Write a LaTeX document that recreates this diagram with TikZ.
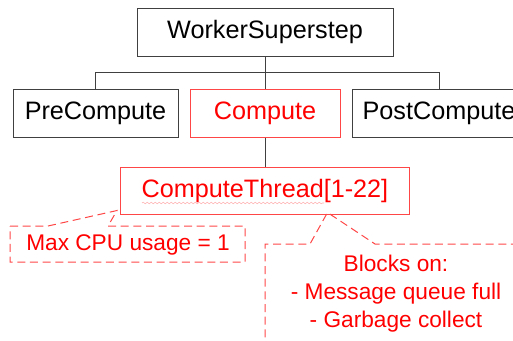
\documentclass[tikz,border=0pt]{standalone}
\usepackage{fontspec}
\setmainfont{Liberation Sans}
\usetikzlibrary{positioning, decorations.pathmorphing}
\definecolor{linegray}{RGB}{64,64,64}
\definecolor{hotred}{RGB}{255,0,0}
\definecolor{hotedge}{RGB}{255,70,70}

\begin{document}
\begin{tikzpicture}[
		x=0.75pt, y=-0.75pt,
		block/.style={draw=linegray, line width=0.75pt, minimum height=36pt, inner sep=0pt, font=\fontsize{18.9}{22}\selectfont},
		hotblock/.style={block, draw=hotedge, text=hotred},
		link/.style={draw=linegray, line width=0.7pt},
		note/.style={draw=hotedge, line width=0.75pt, dash pattern=on 6pt off 3.5pt},
		notetext/.style={text=hotred, font=\fontsize{17}{21}\selectfont, align=center, inner sep=0pt}
		]
		\useasboundingbox (0,0) rectangle (513,340);
		\clip (0,0) rectangle (513,340);
		
		\node[block, minimum width=192pt] (superstep) at (265,32) {WorkerSuperstep};
		\node[hotblock, minimum width=112.5pt, below=24pt of superstep] (compute) {Compute};
		\node[block, minimum width=123.75pt, left=8.25pt of compute] (precompute) {PreCompute};
		\node[block, minimum width=130.5pt, right=8.25pt of compute] (postcompute) {PostCompute};
		\node[hotblock, minimum width=216.75pt, minimum height=35.25pt, below=21.75pt of compute] (thread) {ComputeThread[1-22]};
		\coordinate[below=12pt of superstep.south] (bus);
		
		% Tree links
		\draw[link] (superstep.south) -- (compute.north);
		\draw[link] (precompute.north) |- (bus) -| (postcompute.north);
		\draw[link] (compute.south) -- (thread.north);
		
		% spell-check squiggle
		\draw[hotedge!45, line width=0.4pt, decorate, decoration={snake, amplitude=0.6pt, segment length=3pt}] (142,203) -- (324,203);
		
		% Notes
		\node[notetext] (cpunote) at (128,245) {Max CPU usage = 1};
		\node[notetext] (blocknote) at (396,294) {Blocks on:\\- Message queue full\\- Garbage collect};
		
		\draw[note] (10,226) -- (48,226) -- ([shift={(-3,-4)}]thread.south west) -- (108,226) -- (245,226) -- (245,262) -- (10,262) -- cycle;
		\draw[note] (265,350) -- (265,244) -- (310,244) -- ([shift={(62.5,-2)}]thread.south) -- (375,244) -- (525,244);
		
	\end{tikzpicture}
\end{document}
